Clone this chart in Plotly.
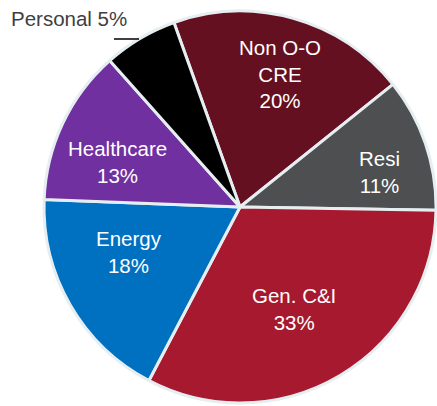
import math
import plotly.graph_objects as go

# Data
categories = ["Non O-O CRE", "Resi", "Gen. C&I", "Energy", "Healthcare", "Personal"]
label_names = ["Non O-O<br>CRE", "Resi", "Gen. C&I", "Energy", "Healthcare", "Personal"]
shares = [19.7, 11.0, 32.4, 17.9, 12.8, 6.1]          # slice sizes as drawn
pct_labels = [20, 11, 33, 18, 13, 5]                   # percentages as printed
colors = ["#651020", "#4D4F51", "#A6192E", "#0070C0", "#7030A0", "#000000"]

W, H = 437, 406
CX, CY, R = 240, 207, 196           # pie centre / radius in figure pixels
START = -19.7                       # start angle (deg, clockwise from 12 o'clock)
FONT = "Liberation Sans, Arial, sans-serif"

fig = go.Figure(go.Pie(
    labels=categories, values=shares, sort=False, direction="clockwise", rotation=START,
    marker=dict(colors=colors, line=dict(color="#E6EEF2", width=3)),
    textinfo="none",
    domain=dict(x=[(CX - R) / W, (CX + R) / W], y=[(H - CY - R) / H, (H - CY + R) / H]),
    showlegend=False, hoverinfo="label+percent",
))

# label placement style (radial fraction and angular nudge per slice)
label_frac = [0.709, 0.736, 0.589, 0.613, 0.666, None]
label_nudge = [0.9, 4.9, 2.8, 8.0, -5.0, 0]

total = sum(shares)
acc = 0.0
for name, v, p, f, nd in zip(label_names, shares, pct_labels, label_frac, label_nudge):
    mid = START + (acc + v / 2) / total * 360
    acc += v
    if f is None:
        continue
    a = math.radians(mid + nd)
    px = CX + R * f * math.sin(a)
    py = CY - R * f * math.cos(a)
    fig.add_annotation(text=f"{name}<br>{p}%", x=px / W, y=1 - py / H,
                       xref="paper", yref="paper", xanchor="center", yanchor="middle",
                       showarrow=False, align="center",
                       font=dict(family=FONT, size=20.5, color="white"))

# outside label for the small slice
fig.add_annotation(text=f"{categories[5]} {pct_labels[5]}%", x=9 / W, y=1 - 18 / H,
                   xref="paper", yref="paper", xanchor="left", yanchor="middle",
                   showarrow=False, font=dict(family=FONT, size=20.5, color="#404040"))
fig.add_shape(type="line", xref="paper", yref="paper",
              x0=114 / W, x1=139 / W, y0=1 - 39 / H, y1=1 - 39 / H,
              line=dict(color="black", width=1.5))

fig.update_layout(width=W, height=H, margin=dict(l=0, r=0, t=0, b=0),
                  paper_bgcolor="white", plot_bgcolor="white")
fig.write_html("out.html", config={"displayModeBar": False},
               post_script="document.body.style.margin='0';document.body.style.overflow='hidden';")
